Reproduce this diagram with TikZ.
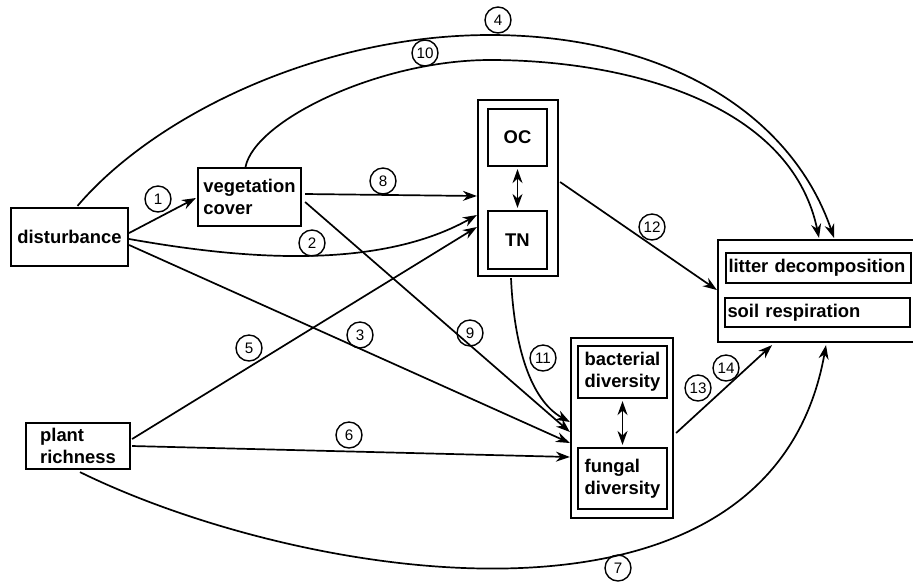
\documentclass[tikz,border=0pt]{standalone}
\usepackage{fontspec}
\setmainfont{Liberation Sans}
\usetikzlibrary{arrows.meta,calc}

\begin{document}
\begin{tikzpicture}[x=0.5pt, y=-0.5pt,
    box/.style={draw, line width=1.1pt, inner sep=0pt, align=left, font=\fontsize{9.2}{11}\selectfont\bfseries},
    outer/.style={draw, line width=1.1pt, inner sep=0pt},
    link/.style={line width=0.85pt, -{Stealth[length=7pt,width=5pt]}},
    twoway/.style={line width=0.85pt, {Stealth[length=7pt,width=5pt]}-{Stealth[length=7pt,width=5pt]}, shorten <=1pt, shorten >=1pt},
    num/.style={circle, draw, line width=0.7pt, minimum size=13pt, inner sep=0.5pt, font=\fontsize{7.6}{8}\selectfont}]
    \path[use as bounding box, fill=white] (0,0) rectangle (913,585);

    % Drivers
    \node[box, minimum width=58.5pt, minimum height=29pt] (dist) at (69.5,237) {disturbance};
    \node[box, minimum width=51.5pt, minimum height=29pt] (veg) at (249.5,197) {vegetation\\cover};
    \node[box, minimum width=52pt, minimum height=23pt] (plant) at (78,446) {plant\\richness};

    % Soil nutrients
    \node[outer, minimum width=40pt, minimum height=88pt] (nutr) at (518,188) {};
    \node[box, minimum width=29.5pt, minimum height=28.5pt] (oc) at (517.5,137.5) {OC};
    \node[box, minimum width=29.5pt, minimum height=29pt] (tn) at (517.5,240) {TN};

    % Microbial diversity
    \node[outer, minimum width=51pt, minimum height=90pt] (micro) at (622,428) {};
    \node[box, minimum width=44.5pt, minimum height=26pt] (bact) at (622.5,372) {bacterial\\diversity};
    \node[box, minimum width=44.5pt, minimum height=30.5pt] (fung) at (622.5,478.5) {fungal\\diversity};

    % Ecosystem functions
    \node[outer, minimum width=100pt, minimum height=51pt] (eco) at (818,291) {};
    \node[box, text width=90pt, inner xsep=1.25pt, minimum height=15pt] (litter) at (818.5,268) {litter decomposition};
    \node[box, text width=90pt, inner xsep=1.25pt, minimum height=14.5pt] (resp) at (817.5,312.5) {soil respiration};

    % Paths from disturbance
    \draw[link] ($(dist.east)+(0,-4)$) -- ($(veg.west)+(-1,1)$);
    \draw[link] ($(dist.east)+(0,2)$) .. controls (220,255) and (370,275) .. ($(nutr.west)+(0,27)$);
    \draw[link] ($(dist.east)+(0,8)$) -- ($(micro.west)+(0,15)$);
    \draw[link] ($(dist.north)+(8,-1)$) .. controls (155,115) and (320,35) .. (490,35)
        .. controls (660,35) and (790,110) .. ($(eco.north)+(16,-1)$);

    % Paths from plant richness
    \draw[link] ($(plant.east)+(1,-7)$) -- ($(nutr.west)+(0,39)$);
    \draw[link] ($(plant.east)+(1,0)$) -- ($(micro.west)+(0,29)$);
    \draw[link] ($(plant.south)+(2,2)$) .. controls (300,580) and (770,660) .. ($(eco.south)+(8,2)$);

    % Paths from vegetation cover
    \draw[link] ($(veg.east)+(3,-3)$) -- ($(nutr.west)+(0,8)$);
    \draw[link] ($(veg.east)+(3,5)$) -- ($(micro.west)+(0,4)$);
    \draw[link] ($(veg.north)+(-4,0)$) .. controls (255,120) and (380,60) .. (490,60)
        .. controls (620,60) and (790,100) .. ($(eco.north)+(1,-1)$);

    % Nutrients and microbes
    \draw[link] ($(nutr.south)+(-7,1)$) .. controls (514,345) and (530,400) .. ($(micro.west)+(0,-6)$);
    \draw[link] ($(nutr.east)+(1,-6)$) -- ($(eco.west)+(0,-1)$);
    \draw[link] ($(micro.east)+(2,5)$) -- ($(eco.south)+(-46,2)$);
    \draw[twoway] (oc.south) -- (tn.north);
    \draw[twoway] (bact.south) -- (fung.north);

    % Path numbers
    \foreach \n/\x/\y in {1/158/199, 2/312/243, 3/360/335, 4/498/20, 5/249/348, 6/349/435, 7/618/568,
        8/383/181, 9/470/333, 10/425/53, 11/543/358, 12/652/227, 13/698/388, 14/726/368}
        \node[num] (l\n) at (\x,\y) {\n};
\end{tikzpicture}
\end{document}
